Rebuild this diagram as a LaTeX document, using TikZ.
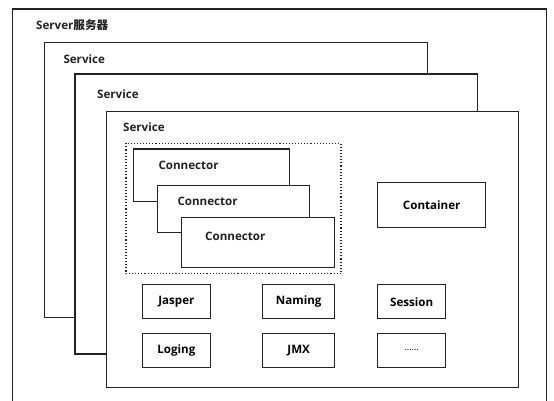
\documentclass[tikz,border=0pt]{standalone}
\usepackage{fontspec}
\setmainfont{Open Sans}
\newfontfamily\cjk{Noto Sans CJK SC}
\usepackage{tikz}
\definecolor{ink}{HTML}{222222}

\tikzset{
  frame/.style={draw=ink, fill=white, line width=1.1pt},
  part/.style={draw=ink, fill=white, line width=1.1pt, inner sep=0pt,
    anchor=north west, font=\fontsize{11.6}{13}\selectfont\bfseries},
  tag/.style={anchor=west, inner sep=0pt, text=ink,
    font=\fontsize{11.6}{13}\selectfont\bfseries}
}

\begin{document}
\begin{tikzpicture}[x=1pt, y=-1pt]
      \useasboundingbox (0,0) rectangle (554,401);
      % Server frame, open at the bottom edge
      \draw[ink, line width=1.1pt] (12.7,401) -- (12.7,9) -- (546.7,9) -- (546.7,401);
      \node[tag] (server) at (36,25) {Server{\cjk\bfseries 服务器}};
      % Stacked services
      \draw[frame] (44.7,42.7) rectangle (427.7,317.7);
      \node[tag] (svc1) at (63.3,58.7) {Service};
      \draw[frame] (75,74) rectangle (477.7,354);
      \node[tag] (svc2) at (97,93.7) {Service};
      \draw[frame] (106.7,111.7) rectangle (518.7,387.3);
      \node[tag] (svc3) at (123,127) {Service};
      % Connector group
      \draw[ink, dotted, line width=1.1pt] (126,143.3) rectangle (341,273.7);
      \node[part, minimum width=156pt, minimum height=52.5pt] (conn1) at (132.5,148.5) {};
      \node[tag] (conn1lbl) at (158.3,165.7) {Connector};
      \node[part, minimum width=151.7pt, minimum height=47.3pt] (conn2) at (157.3,185) {};
      \node[tag] (conn2lbl) at (177.3,201.7) {Connector};
      \node[part, minimum width=152.7pt, minimum height=50.3pt] (conn3) at (181,216.7) {};
      \node[tag] (conn3lbl) at (205,236.7) {Connector};
      % Container
      \node[part, minimum width=108.3pt, minimum height=45pt] (container) at (377,181.7) {Container};
      % Components
      \node[part, minimum width=67.7pt, minimum height=34.3pt] (jasper) at (142,284) {Jasper};
      \node[part, minimum width=72.3pt, minimum height=34.3pt] (naming) at (262,284) {Naming};
      \node[part, minimum width=68.3pt, minimum height=34.3pt] (session) at (377,284) {Session};
      \node[part, minimum width=67.7pt, minimum height=34pt] (loging) at (142,332.7) {Loging};
      \node[part, minimum width=72.3pt, minimum height=34pt] (jmx) at (262,332.7) {JMX};
      \node[part, minimum width=68.3pt, minimum height=34pt, font=\fontsize{9}{11}\selectfont] (more) at (377,332.7) {......};
    \end{tikzpicture}
\end{document}
